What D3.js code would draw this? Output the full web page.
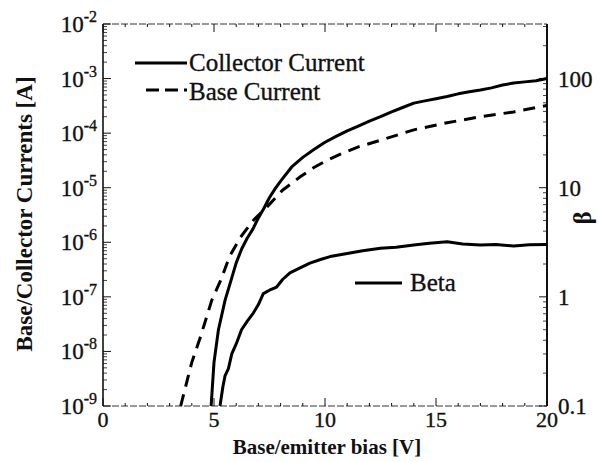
<!DOCTYPE html>
<html>
<head>
<meta charset="utf-8">
<title>Base/Collector Currents</title>
<style>
  body { margin: 0; background: #fff; }
  svg text { font-family: "Liberation Serif", "DejaVu Serif", serif; fill: #111; }
  svg text.heavy { stroke: #111; stroke-width: 0.35px; }
</style>
</head>
<body>
<div id="chart"></div>
<script src="https://d3js.org/d3.v7.min.js"></script>
<script>
// collector current (A) vs base/emitter bias (V)
const collectorV = [4.87, 5.0, 5.2, 5.5, 5.75, 6.0, 6.25, 6.5, 6.75, 7.0, 7.25, 7.5, 7.75, 8.0, 8.5, 9.0, 9.5, 10, 10.5, 11, 11.5, 12, 12.5, 13, 13.5, 14, 14.5, 15, 15.5, 16, 16.5, 17, 17.5, 18, 18.5, 19, 19.5, 20];
const collectorI = [1.0e-9, 6.3e-9, 2.5e-8, 8.7e-8, 1.9e-7, 4.2e-7, 7.6e-7, 1.2e-6, 1.74e-6, 2.8e-6, 4.2e-6, 6.6e-6, 9.5e-6, 1.32e-5, 2.4e-5, 3.6e-5, 5.0e-5, 6.8e-5, 8.7e-5, 1.1e-4, 1.35e-4, 1.66e-4, 2.0e-4, 2.45e-4, 2.95e-4, 3.55e-4, 3.9e-4, 4.27e-4, 4.68e-4, 5.25e-4, 5.75e-4, 6.17e-4, 6.76e-4, 7.6e-4, 8.3e-4, 8.7e-4, 9.1e-4, 1.0e-3];

// base current (A)
const baseV = [3.5, 3.6, 4.0, 4.4, 4.9, 5.3, 5.7, 6.2, 6.8, 7.4, 8.1, 8.9, 9.5, 10.1, 10.8, 11.5, 12.5, 14, 15.5, 17, 18.5, 20];
const baseI = [1.0e-9, 1.45e-9, 6.3e-9, 1.9e-8, 8.7e-8, 2.0e-7, 5.5e-7, 1.25e-6, 2.6e-6, 4.5e-6, 9.1e-6, 1.6e-5, 2.35e-5, 3.2e-5, 4.3e-5, 5.6e-5, 7.4e-5, 1.15e-4, 1.55e-4, 2.0e-4, 2.45e-4, 3.2e-4];

// current gain beta
const betaV = [5.27, 5.4, 5.5, 5.65, 5.8, 6.0, 6.24, 6.5, 6.77, 7.0, 7.22, 7.5, 7.82, 8.1, 8.42, 8.9, 9.32, 9.8, 10.23, 11, 11.7, 12.5, 13.2, 14, 14.7, 15.5, 16.2, 17, 17.7, 18.5, 19.2, 20];
const betaVal = [0.1, 0.15, 0.19, 0.22, 0.3, 0.37, 0.5, 0.6, 0.71, 0.85, 1.07, 1.15, 1.23, 1.45, 1.66, 1.85, 2.04, 2.2, 2.34, 2.5, 2.65, 2.79, 2.85, 2.99, 3.1, 3.2, 3.05, 2.99, 3.02, 2.92, 3.0, 3.02];

const xTicks = [0, 5, 10, 15, 20];
const yExps = [-9, -8, -7, -6, -5, -4, -3, -2];
const betaTicks = [0.1, 1, 10, 100];

const W = 599, H = 462;
const margin = { top: 24, right: 52, bottom: 56, left: 103 };
const iw = W - margin.left - margin.right;
const ih = H - margin.top - margin.bottom;

const svg = d3.select('#chart').append('svg')
    .attr('width', W).attr('height', H);
const g = svg.append('g').attr('transform', `translate(${margin.left},${margin.top})`);

const x = d3.scaleLinear().domain([0, 20]).range([0, iw]);
const y = d3.scaleLog().domain([1e-9, 1e-2]).range([ih, 0]);
const yb = d3.scaleLog().domain([0.1, Math.pow(10, 2.5)]).range([ih, 0]);

// frame: top and bottom look faint/broken in the scan
g.append('line').attr('x1', 0).attr('x2', iw).attr('y1', 0).attr('y2', 0)
    .attr('stroke', '#333').attr('stroke-width', 1).attr('stroke-dasharray', '7,2');
g.append('line').attr('x1', 0).attr('x2', iw).attr('y1', ih).attr('y2', ih)
    .attr('stroke', '#333').attr('stroke-width', 1).attr('stroke-dasharray', '7,2');
g.append('line').attr('x1', 0).attr('x2', 0).attr('y1', 0).attr('y2', ih)
    .attr('stroke', '#111').attr('stroke-width', 1.6);
g.append('line').attr('x1', iw).attr('x2', iw).attr('y1', 0).attr('y2', ih)
    .attr('stroke', '#111').attr('stroke-width', 2);

// x ticks top & bottom
const xMinor = d3.range(0, 21);
xMinor.forEach(v => {
  const len = v % 5 === 0 ? 8 : 3;
  g.append('line').attr('x1', x(v)).attr('x2', x(v)).attr('y1', 0).attr('y2', len)
      .attr('stroke', '#111').attr('stroke-width', 1);
  g.append('line').attr('x1', x(v)).attr('x2', x(v)).attr('y1', ih).attr('y2', ih - len)
      .attr('stroke', '#111').attr('stroke-width', 1);
});
g.selectAll('.xlab').data(xTicks).enter().append('text')
    .attr('class', 'heavy')
    .attr('x', d => x(d)).attr('y', ih + 21)
    .attr('text-anchor', 'middle').attr('font-size', 22)
    .text(d => d);

// left axis ticks (log)
yExps.forEach(e => {
  g.append('line').attr('x1', 0).attr('x2', 8).attr('y1', y(Math.pow(10, e))).attr('y2', y(Math.pow(10, e)))
      .attr('stroke', '#111').attr('stroke-width', 1);
  if (e < -2) {
    for (let k = 2; k <= 9; k++) {
      const yy = y(k * Math.pow(10, e));
      g.append('line').attr('x1', 0).attr('x2', 4).attr('y1', yy).attr('y2', yy)
          .attr('stroke', '#111').attr('stroke-width', 0.8);
    }
  }
  const t = g.append('text').attr('class', 'heavy')
      .attr('x', -6).attr('y', y(Math.pow(10, e)) + 8)
      .attr('text-anchor', 'end').attr('font-size', 23);
  t.append('tspan').text('10');
  t.append('tspan').attr('dy', -10).attr('font-size', 16).text(String(e));
});

// right axis ticks (beta)
betaTicks.forEach(b => {
  g.append('line').attr('x1', iw).attr('x2', iw - 8).attr('y1', yb(b)).attr('y2', yb(b))
      .attr('stroke', '#111').attr('stroke-width', 1);
  for (let k = 2; k <= 9; k++) {
    const v = k * b;
    if (v > Math.pow(10, 2.5)) break;
    g.append('line').attr('x1', iw).attr('x2', iw - 4).attr('y1', yb(v)).attr('y2', yb(v))
        .attr('stroke', '#111').attr('stroke-width', 0.8);
  }
  g.append('text').attr('class', 'heavy').attr('x', iw + 11).attr('y', yb(b) + 8)
      .attr('font-size', 23).text(b);
});

// curves
const line = d3.line().x(d => x(d[0])).y(d => y(d[1]));
const lineB = d3.line().x(d => x(d[0])).y(d => yb(d[1]));

g.append('path').datum(d3.zip(collectorV, collectorI))
    .attr('d', line).attr('fill', 'none').attr('stroke', '#000')
    .attr('stroke-width', 3).attr('stroke-linejoin', 'round');
g.append('path').datum(d3.zip(baseV, baseI))
    .attr('d', line).attr('fill', 'none').attr('stroke', '#000')
    .attr('stroke-width', 3).attr('stroke-dasharray', '12,8');
g.append('path').datum(d3.zip(betaV, betaVal))
    .attr('d', lineB).attr('fill', 'none').attr('stroke', '#000')
    .attr('stroke-width', 3).attr('stroke-linejoin', 'round');

// legends
g.append('line').attr('x1', 32).attr('x2', 84).attr('y1', 39).attr('y2', 39)
    .attr('stroke', '#000').attr('stroke-width', 2.8);
g.append('text').attr('class', 'heavy').attr('x', 86).attr('y', 47).attr('font-size', 25).text('Collector Current');
g.append('line').attr('x1', 43).attr('x2', 84).attr('y1', 66).attr('y2', 66)
    .attr('stroke', '#000').attr('stroke-width', 2.8).attr('stroke-dasharray', '13,6');
g.append('text').attr('class', 'heavy').attr('x', 86).attr('y', 76).attr('font-size', 25).text('Base Current');

g.append('line').attr('x1', 252).attr('x2', 299).attr('y1', 259).attr('y2', 259)
    .attr('stroke', '#000').attr('stroke-width', 2.8);
g.append('text').attr('class', 'heavy').attr('x', 307).attr('y', 267).attr('font-size', 25).text('Beta');

// axis titles
svg.append('text').attr('x', margin.left + iw / 2 + 2).attr('y', 454)
    .attr('text-anchor', 'middle').attr('font-size', 21).attr('font-weight', 'bold')
    .text('Base/emitter bias [V]');
svg.append('text').attr('transform', 'translate(32,214) rotate(-90)')
    .attr('text-anchor', 'middle').attr('font-size', 23).attr('font-weight', 'bold')
    .text('Base/Collector Currents [A]');
svg.append('text').attr('transform', 'translate(591,218) rotate(-90)')
    .attr('text-anchor', 'middle').attr('font-size', 25).attr('font-weight', 'bold')
    .text('β');
</script>
</body>
</html>
